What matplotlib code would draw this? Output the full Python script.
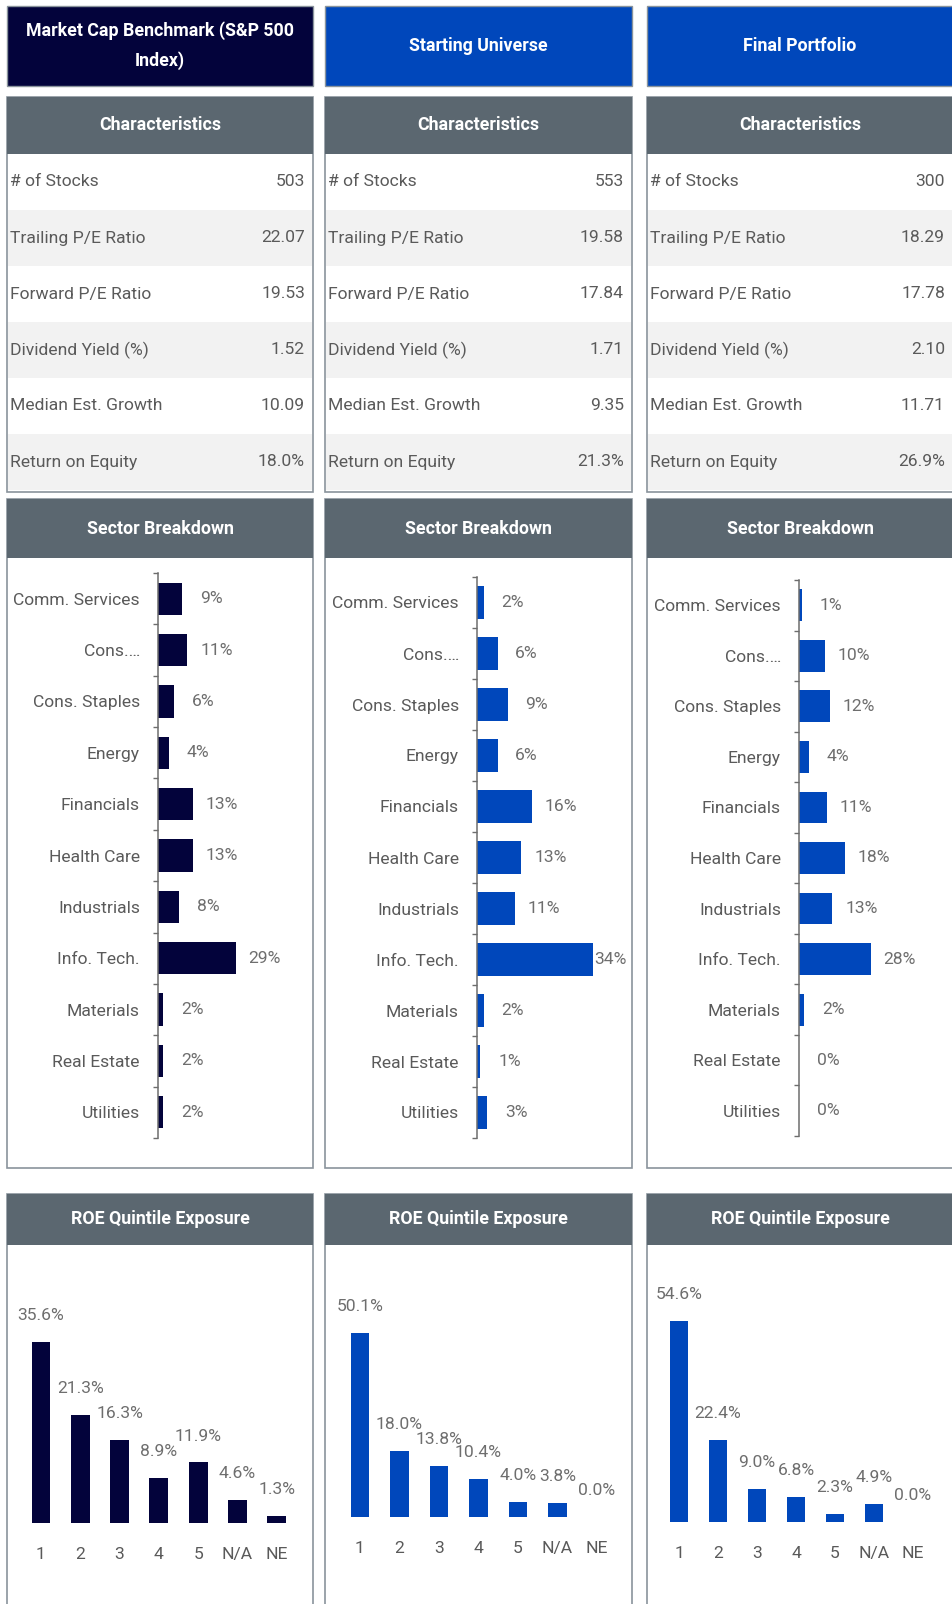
import numpy as np
import matplotlib
matplotlib.use("Agg")
import matplotlib.pyplot as plt
from matplotlib.patches import Rectangle
from matplotlib import font_manager

# ---- data ----
col_titles = ["Market Cap Benchmark (S&P 500\nIndex)", "Starting Universe", "Final Portfolio"]
char_labels = ["# of Stocks", "Trailing P/E Ratio", "Forward P/E Ratio",
               "Dividend Yield (%)", "Median Est. Growth", "Return on Equity"]
bench_chars = ["503", "22.07", "19.53", "1.52", "10.09", "18.0%"]
univ_chars = ["553", "19.58", "17.84", "1.71", "9.35", "21.3%"]
port_chars = ["300", "18.29", "17.78", "2.10", "11.71", "26.9%"]

sectors = ["Comm. Services", "Cons.\u2026", "Cons. Staples", "Energy", "Financials",
           "Health Care", "Industrials", "Info. Tech.", "Materials", "Real Estate", "Utilities"]
bench_sector = [9, 11, 6, 4, 13, 13, 8, 29, 2, 2, 2]
univ_sector = [2, 6, 9, 6, 16, 13, 11, 34, 2, 1, 3]
port_sector = [1, 10, 12, 4, 11, 18, 13, 28, 2, 0, 0]

quintiles = ["1", "2", "3", "4", "5", "N/A", "NE"]
bench_roe = [35.6, 21.3, 16.3, 8.9, 11.9, 4.6, 1.3]
univ_roe = [50.1, 18.0, 13.8, 10.4, 4.0, 3.8, 0.0]
port_roe = [54.6, 22.4, 9.0, 6.8, 2.3, 4.9, 0.0]

# ---- style ----
avail = {f.name for f in font_manager.fontManager.ttflist}
if "Liberation Sans Narrow" in avail:
    FONT, FS, FB = "Liberation Sans Narrow", 14.5, 14.5
else:
    FONT, FS, FB = "Roboto", 12.6, 12.8
plt.rcParams["font.family"] = [FONT, "DejaVu Sans"]

NAVY = "#03033b"
BLUE = "#0047bb"
GRAY_HDR = "#5b6770"
BORDER = "#8a949c"
SHADE = "#f2f2f2"
TXT = "#5a5a5a"
VAL = "#6e6e6e"

W, H = 953, 1604
fig = plt.figure(figsize=(W / 100, H / 100), dpi=100)


def rect(x0, y0, x1, y1, fc, ec="none", lw=0):
    fig.add_artist(Rectangle((x0 / W, 1 - y1 / H), (x1 - x0) / W, (y1 - y0) / H,
                             transform=fig.transFigure, fc=fc, ec=ec, lw=lw, zorder=-5))


def ftext(x, y, s, **kw):
    fig.text(x / W, 1 - y / H, s, **kw)


def axbox(x0, y0, x1, y1):
    a = fig.add_axes([x0 / W, 1 - y1 / H, (x1 - x0) / W, (y1 - y0) / H])
    a.set_zorder(5)
    return a


cols = [(7, 313), (325, 632), (647, 962)]
head_colors = [NAVY, BLUE, BLUE]
all_chars = [bench_chars, univ_chars, port_chars]
all_sector = [bench_sector, univ_sector, port_sector]
all_roe = [bench_roe, univ_roe, port_roe]
bar_colors = [NAVY, BLUE, BLUE]

# sector axes layout: axis x, top, bottom, px per %
sec_geo = [(158, 573, 1138, 2.68), (477, 577, 1138, 3.42), (799, 580, 1136, 2.56)]
# roe layout: first centre, spacing, baseline, px per %
roe_geo = [(41, 39.3, 1523, 5.09), (360, 39.5, 1517, 3.67), (679, 39.0, 1522, 3.68)]

for c, (x0, x1) in enumerate(cols):
    xc = (x0 + min(x1, W)) / 2
    # top title box
    rect(x0, 6, x1, 86, head_colors[c], BORDER, 1)
    ftext(xc, 46, col_titles[c], color="white", fontsize=FB, fontweight="bold",
          ha="center", va="center", linespacing=1.75)

    # characteristics table
    rect(x0, 97, x1, 492, "white", BORDER, 1.2)
    rect(x0, 97, x1, 154, GRAY_HDR)
    ftext(xc, 125, "Characteristics", color="white", fontsize=FB,
          fontweight="bold", ha="center", va="center")
    for i, (lab, v) in enumerate(zip(char_labels, all_chars[c])):
        ty = 154 + 56 * i
        if i % 2 == 1:
            rect(x0 + 1, ty, x1 - 1, ty + 56, SHADE)
        ftext(x0 + 3, ty + 28, lab, color=TXT, fontsize=FS, ha="left", va="center")
        ftext(min(x1, W) - 8, ty + 28, v, color=TXT, fontsize=FS, ha="right", va="center")

    # sector breakdown panel
    rect(x0, 499, x1, 1168, "white", BORDER, 1.2)
    rect(x0, 499, x1, 558, GRAY_HDR)
    ftext(xc, 529, "Sector Breakdown", color="white", fontsize=FB,
          fontweight="bold", ha="center", va="center")

    axx, top, bot, scale = sec_geo[c]
    right = min(x1, W)
    ax = axbox(axx, top, right, bot)
    xmax = (right - axx) / scale
    vals = all_sector[c]
    ax.barh(np.arange(len(sectors)), vals, height=0.63, color=bar_colors[c])
    for i, v in enumerate(vals):
        lx = min(v + 29 / scale, xmax - 22 / scale)
        ax.text(lx, i, f"{v}%", ha="center", va="center", color=VAL, fontsize=FS)
    ax.set_xlim(0, xmax)
    ax.set_ylim(len(sectors) - 0.5, -0.5)
    ax.set_yticks(np.arange(len(sectors)), sectors)
    ax.set_yticks(np.arange(-0.5, len(sectors)), minor=True)
    ax.tick_params(axis="y", which="major", length=0, pad=13, labelsize=FS, labelcolor=TXT)
    ax.tick_params(axis="y", which="minor", length=3.6, width=1, color="#6d6d6d")
    ax.set_xticks([])
    for s in ["top", "right", "bottom"]:
        ax.spines[s].set_visible(False)
    ax.spines["left"].set_color("#6d6d6d")
    ax.spines["left"].set_linewidth(1.1)
    ax.patch.set_alpha(0)

    # ROE quintile panel
    rect(x0, 1194, x1, 1612, "white", BORDER, 1.2)
    rect(x0, 1194, x1, 1245, GRAY_HDR)
    ftext(xc, 1219, "ROE Quintile Exposure", color="white", fontsize=FB,
          fontweight="bold", ha="center", va="center")

    c0, sp, base, rs = roe_geo[c]
    ax2 = axbox(c0 - sp / 2, 1250, c0 - sp / 2 + sp * len(quintiles), base)
    rv = all_roe[c]
    ax2.bar(np.arange(len(quintiles)), rv, width=0.48, color=bar_colors[c])
    for i, v in enumerate(rv):
        ax2.annotate(f"{v:.1f}%", (i, v), xytext=(0, 19), textcoords="offset points",
                     ha="center", va="center", color=VAL, fontsize=FS)
    ax2.set_xlim(-0.5, len(quintiles) - 0.5)
    ax2.set_ylim(0, (base - 1250) / rs)
    ax2.set_xticks(np.arange(len(quintiles)), quintiles)
    ax2.tick_params(axis="x", length=0, pad=17, labelsize=FS, labelcolor=TXT)
    ax2.set_yticks([])
    for s in ax2.spines.values():
        s.set_visible(False)
    ax2.patch.set_alpha(0)

fig.savefig("out.png", dpi=100, facecolor="white")
